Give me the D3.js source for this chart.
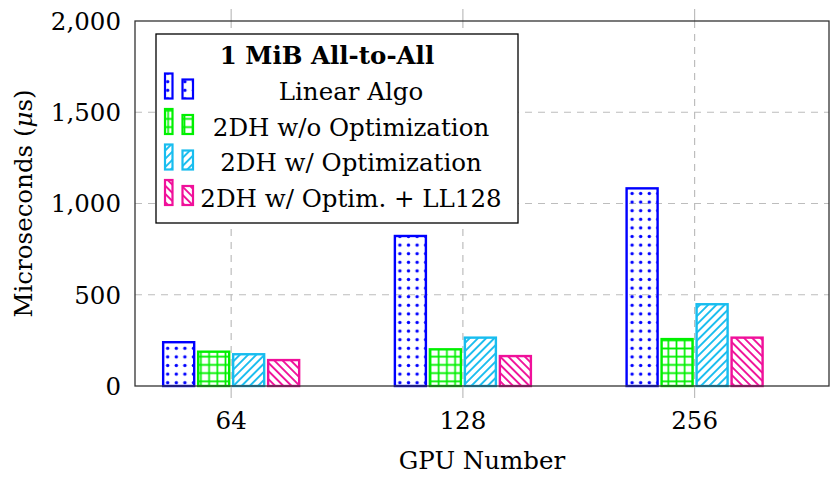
<!DOCTYPE html>
<html lang="en">
<head>
<meta charset="UTF-8">
<title>1 MiB All-to-All</title>
<style>
  body { margin: 0; background: #fff; }
  svg text { font-family: "DejaVu Serif", serif; fill: #000; }
</style>
</head>
<body>
<script src="https://cdn.jsdelivr.net/npm/d3@7/dist/d3.min.js"></script>
<script>
    const categories = ['64', '128', '256'];
    const seriesNames = ['Linear Algo', '2DH w/o Optimization', '2DH w/ Optimization', '2DH w/ Optim. + LL128'];
    const linearAlgo = [240, 822, 1083];
    const noOptim = [188, 201, 257];
    const withOptim = [174, 265, 448];
    const withLL128 = [142, 164, 265];
    const yTicks = [0, 500, 1000, 1500, 2000];

    const series = [linearAlgo, noOptim, withOptim, withLL128];
    const colors = ['#0000ff', '#00f000', '#18bdef', '#f0109a'];
    const patterns = ['dots', 'grid', 'ne', 'nw'];

    const w = 831;
    const h = 478;
    const pL = 135, pR = 829, pT = 21, pB = 386;
    const fs = '24.5px';

    const xScale = d3.scaleLinear()
        .domain([-0.415, 2.58])
        .range([pL, pR]);

    // bars inside a group
    const inner = d3.scaleBand()
        .domain(seriesNames)
        .range([-68, 68])
        .paddingInner(0.114);

    const yScale = d3.scaleLinear()
        .domain([0, 2000])
        .range([pB, pT]);

    const svg = d3.select('body')
        .append('svg')
        .attr('width', w)
        .attr('height', h);

    // fill patterns
    const defs = svg.append('defs');
    colors.forEach((c, i) => {
        const p = defs.append('pattern')
            .attr('id', 'pat' + i)
            .attr('patternUnits', 'userSpaceOnUse');
        if (patterns[i] === 'dots') {
            p.attr('width', 8.6).attr('height', 8.6)
                .append('circle').attr('cx', 4.3).attr('cy', 4.3).attr('r', 1.7).attr('fill', c);
        } else if (patterns[i] === 'grid') {
            p.attr('width', 8.2).attr('height', 8.2)
                .append('path').attr('d', 'M0,4.1H8.2M4.1,0V8.2').attr('stroke', c).attr('stroke-width', 1.7);
        } else {
            p.attr('width', 5.8).attr('height', 5.8)
                .attr('patternTransform', patterns[i] === 'ne' ? 'rotate(45)' : 'rotate(-45)')
                .append('path').attr('d', 'M2.9,0V5.8').attr('stroke', c).attr('stroke-width', 1.9);
        }
    });

    // grid
    svg.append('g')
        .selectAll('line')
        .data(yTicks.slice(1, -1))
        .enter()
        .append('line')
        .attr('x1', pL).attr('x2', pR)
        .attr('y1', d => yScale(d)).attr('y2', d => yScale(d))
        .attr('stroke', '#bdbdbd').attr('stroke-width', 1.2)
        .attr('stroke-dasharray', '7,6');

    svg.append('g')
        .selectAll('line')
        .data(categories)
        .enter()
        .append('line')
        .attr('x1', (d, i) => xScale(i)).attr('x2', (d, i) => xScale(i))
        .attr('y1', pT).attr('y2', pB)
        .attr('stroke', '#bdbdbd').attr('stroke-width', 1.2)
        .attr('stroke-dasharray', '7,6');

    // x ticks outside top and bottom
    categories.forEach((d, i) => {
        svg.append('line')
            .attr('x1', xScale(i)).attr('x2', xScale(i))
            .attr('y1', pB).attr('y2', pB + 12)
            .attr('stroke', '#bdbdbd').attr('stroke-width', 1.2);
        svg.append('line')
            .attr('x1', xScale(i)).attr('x2', xScale(i))
            .attr('y1', pT - 12).attr('y2', pT)
            .attr('stroke', '#bdbdbd').attr('stroke-width', 1.2);
    });

    // bars
    series.forEach((vals, s) => {
        svg.append('g')
            .selectAll('rect')
            .data(vals)
            .enter()
            .append('rect')
            .attr('x', (d, i) => xScale(i) + inner(seriesNames[s]))
            .attr('y', d => yScale(d))
            .attr('width', inner.bandwidth())
            .attr('height', d => yScale(0) - yScale(d))
            .attr('fill', 'url(#pat' + s + ')')
            .attr('stroke', colors[s])
            .attr('stroke-width', 2.4);
    });

    // frame
    svg.append('rect')
        .attr('x', pL).attr('y', pT)
        .attr('width', pR - pL).attr('height', pB - pT)
        .attr('fill', 'none').attr('stroke', '#333').attr('stroke-width', 1.3);

    // tick labels
    svg.append('g')
        .selectAll('text')
        .data(yTicks)
        .enter()
        .append('text')
        .attr('x', 121)
        .attr('y', d => yScale(d))
        .attr('dy', '0.36em')
        .attr('text-anchor', 'end')
        .style('font-size', fs)
        .text(d => d3.format(',')(d));

    svg.append('g')
        .selectAll('text')
        .data(categories)
        .enter()
        .append('text')
        .attr('x', (d, i) => xScale(i))
        .attr('y', 429)
        .attr('text-anchor', 'middle')
        .style('font-size', fs)
        .text(d => d);

    svg.append('text')
        .attr('x', (pL + pR) / 2)
        .attr('y', 469)
        .attr('text-anchor', 'middle')
        .style('font-size', fs)
        .text('GPU Number');

    const yl = svg.append('text')
        .attr('transform', `translate(32,${(pT + pB) / 2}) rotate(-90)`)
        .attr('text-anchor', 'middle')
        .style('font-size', fs);
    yl.append('tspan').text('Microseconds (');
    yl.append('tspan').style('font-style', 'italic').text('\u03bc');
    yl.append('tspan').text('s)');

    // legend
    const lg = svg.append('g');
    lg.append('rect')
        .attr('x', 156).attr('y', 34)
        .attr('width', 362).attr('height', 189)
        .attr('fill', '#fff').attr('stroke', '#000').attr('stroke-width', 1.3);
    lg.append('text')
        .attr('x', 327).attr('y', 64)
        .attr('text-anchor', 'middle')
        .style('font-size', fs)
        .style('font-weight', 'bold')
        .text('1 MiB All-to-All');

    seriesNames.forEach((name, s) => {
        const cy = 91.5 + s * 35.5;
        lg.append('rect')
            .attr('x', 165).attr('y', cy - 18)
            .attr('width', 7.5).attr('height', 25)
            .attr('fill', 'url(#pat' + s + ')')
            .attr('stroke', colors[s]).attr('stroke-width', 2.2);
        lg.append('rect')
            .attr('x', 182.5).attr('y', cy - 12)
            .attr('width', 10.5).attr('height', 19)
            .attr('fill', 'url(#pat' + s + ')')
            .attr('stroke', colors[s]).attr('stroke-width', 2.2);
        lg.append('text')
            .attr('x', 351).attr('y', cy)
            .attr('dy', '0.36em')
            .attr('text-anchor', 'middle')
            .style('font-size', fs)
            .text(name);
    });
</script>
</body>
</html>
